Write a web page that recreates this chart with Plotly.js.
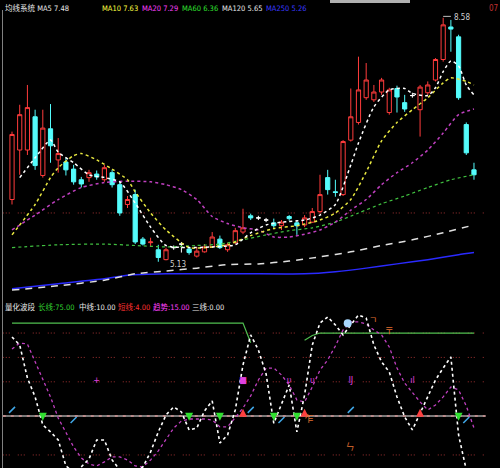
<!DOCTYPE html>
<html><head><meta charset="utf-8">
<script src="https://cdn.plot.ly/plotly-3.0.1.min.js"></script>
<style>html,body{margin:0;padding:0;background:#000;}#chart{width:500px;height:468px;}</style>
</head><body><div id="chart"></div>
<script>
// ---- price bars ----
const openP  = [6.01,6.71,6.71,7.18,6.35,7.01,6.57,6.54,6.44,6.29,6.32,6.37,6.29,6.39,6.22,5.94,6.08,5.45,5.40,5.30,5.16,5.33,5.38,5.31,5.21,5.27,5.34,5.45,5.30,5.40,5.55,5.78,5.75,5.72,5.68,5.64,5.77,5.68,5.65,5.69,5.84,6.32,6.12,6.08,6.85,7.10,7.45,7.42,7.53,7.24,7.58,7.38,7.48,7.28,7.52,7.70,7.99,8.45,8.31,7.07,6.43];
const highP  = [6.97,7.35,7.63,7.28,7.28,7.36,6.88,6.60,6.50,6.33,6.43,6.42,6.50,6.43,6.26,6.06,6.15,5.48,5.47,5.37,5.33,5.36,5.41,5.34,5.34,5.38,5.55,5.50,5.40,5.61,5.88,5.81,5.78,5.75,5.74,5.72,5.79,5.72,5.79,5.89,6.36,6.43,6.29,6.85,7.58,8.03,7.94,7.63,7.73,7.59,7.62,7.49,7.52,7.63,7.68,8.01,8.58,8.55,8.34,7.10,6.53];
const lowP   = [5.94,6.36,6.64,6.43,6.32,6.53,6.39,6.35,6.22,6.18,6.26,6.29,6.26,6.18,5.78,5.89,5.38,5.36,5.34,5.13,5.15,5.30,5.26,5.23,5.19,5.26,5.33,5.31,5.27,5.38,5.52,5.72,5.72,5.69,5.61,5.58,5.71,5.51,5.62,5.68,5.81,6.08,6.05,6.06,6.83,7.07,7.42,7.39,7.49,7.21,7.24,7.25,7.45,6.90,7.49,7.68,7.96,8.10,7.42,6.64,6.29];
const closeP = [6.93,7.21,7.31,6.49,7.02,6.77,6.66,6.43,6.26,6.23,6.39,6.33,6.46,6.22,5.82,6.01,5.41,5.38,5.41,5.19,5.30,5.33,5.38,5.26,5.28,5.34,5.48,5.33,5.37,5.57,5.61,5.75,5.75,5.72,5.64,5.69,5.74,5.64,5.75,5.84,6.08,6.15,6.11,6.83,7.18,7.56,7.70,7.53,7.70,7.56,7.46,7.29,7.48,7.60,7.63,7.99,8.48,8.42,7.45,6.67,6.36];

// ---- moving averages (sampled at bar indices) ----
const ma5Idx  = [1,3,5,6,8,10,12,14,16,18,20,23,26,29,31,33,35,38,40,42,44,45,47,49,51,52,54,55,56,57,58,59,60];
const ma5     = [6.32,6.60,6.85,6.68,6.53,6.36,6.32,6.26,5.96,5.62,5.36,5.33,5.34,5.37,5.54,5.65,5.69,5.72,5.79,5.94,6.50,6.81,7.32,7.56,7.58,7.51,7.48,7.59,7.82,7.97,7.90,7.63,7.49];
const ma10Idx = [0,3,5,6,8,9,11,13,15,16,18,20,23,25,28,31,34,37,40,42,44,46,48,50,52,54,56,57,59,60];
const ma10    = [5.51,5.94,6.32,6.46,6.63,6.66,6.57,6.44,6.29,6.12,5.82,5.58,5.33,5.33,5.37,5.50,5.60,5.64,5.72,5.82,6.01,6.40,6.84,7.10,7.28,7.45,7.66,7.73,7.68,7.63];
const ma20Idx = [0,3,6,9,12,15,18,20,22,24,26,28,30,32,34,36,38,40,42,44,46,48,50,52,54,56,58,60];
const ma20    = [5.58,5.79,6.01,6.18,6.25,6.27,6.26,6.22,6.15,6.01,5.77,5.67,5.61,5.58,5.48,5.48,5.52,5.58,5.69,5.86,6.01,6.22,6.39,6.53,6.71,6.95,7.21,7.29];
const ma60Idx = [0,6,12,16,20,24,27,30,33,36,39,42,45,48,51,54,57,60];
const ma60    = [5.33,5.37,5.38,5.36,5.34,5.36,5.38,5.44,5.51,5.57,5.61,5.69,5.82,5.95,6.06,6.18,6.29,6.36];
const ma120Idx= [0,6,12,16,20,24,28,32,36,40,44,48,52,56,60];
const ma120   = [4.73,4.79,4.87,4.96,5.00,5.04,5.09,5.10,5.14,5.20,5.27,5.36,5.44,5.54,5.65];
const ma250Idx= [0,6,12,15,20,30,38,42,46,50,54,58,60];
const ma250   = [4.75,4.82,4.89,4.94,4.96,4.96,4.96,4.99,5.04,5.10,5.16,5.23,5.26];

// ---- lower indicator ----
const kLine = [96.8,90.2,63.1,47.6,24.6,18.9,12.3,-9.0,-13.9,-9.8,-3.3,12.3,12.3,-4.1,-12.3,-13.9,-13.9,-9.8,2.5,18.9,32.8,39.4,35.3,20.5,22.1,36.1,44.3,9.8,16.4,36.9,73.8,98.4,86.1,66.4,26.0,41.0,57.4,18.9,49.2,90.2,108.2,113.2,106.6,98.4,106.6,114.8,112.3,90.2,76.3,68.1,47.6,31.2,20.5,34.4,47.6,61.5,71.3,80.4,16.4,-12.3,-13.9];
const dLine = [86.9,91.8,91.0,76.3,61.5,47.6,30.3,18.9,6.6,-2.5,-7.4,-9.0,-5.7,-1.6,-1.6,-4.1,-9.0,-9.8,-4.1,3.3,13.1,22.1,27.9,29.5,29.5,29.5,28.7,23.0,23.0,30.3,38.5,48.4,61.5,71.3,71.3,65.6,57.4,45.1,43.5,55.8,69.7,77.9,89.4,102.5,109.1,109.1,107.4,102.5,98.4,88.6,71.3,59.0,50.8,43.5,36.9,41.0,47.6,55.8,53.3,40.2,22.1];
const gLine = [108.2,108.2,108.2,108.2,108.2,108.2,108.2,108.2,108.2,108.2,108.2,108.2,108.2,108.2,108.2,108.2,108.2,108.2,108.2,108.2,108.2,108.2,108.2,108.2,108.2,108.2,108.2,108.2,108.2,108.2,108.2,92,null,null,null,null,null,null,94,98,100,100,100,100,100,100,100,100,100,100,100,100,100,100,100,100,100,100,100,100,100];
const sellIdx = [4,23,27,34,37,58];
const buyIdx  = [30,38,53];
const tickIdx = [0,8,31,35,44,59];
const tickVal = [37,28.7,37,28.7,37,28.7];
const magIdx  = [11,30,36,39,44,52];
const magTxt  = ["+","■","υ","υ","IJ","ıl"];
const oraIdx  = [46.9,49,43.9,38.6];
const oraVal  = [110,101,5.7,28.7];
const oraTxt  = ["ㄱ","〒","ㄣ","乍"];
const gridTop = [5.82];
const gridLow = [100,80,60,0];
const baseLvl = 32;

const titleTop = [
  {t:"均线系统 MA5 7.48", c:"#e8e8e8", x:3},
  {t:"MA10 7.63", c:"#ffff40", x:100},
  {t:"MA20 7.29", c:"#ff40ff", x:140},
  {t:"MA60 6.36", c:"#30e030", x:180},
  {t:"MA120 5.65", c:"#e8e8e8", x:220},
  {t:"MA250 5.26", c:"#3a3aff", x:264}
];
const titleLow = [
  {t:"量化波段", c:"#e8e8e8", x:3},
  {t:"长线:75.00", c:"#30d030", x:36},
  {t:"中线:10.00", c:"#e8e8e8", x:77},
  {t:"短线:4.00", c:"#ff3030", x:116},
  {t:"趋势:15.00", c:"#ff40ff", x:151},
  {t:"三线:0.00", c:"#e8e8e8", x:190}
];

const idx = openP.map((_, i) => i);
const isDoji = i => openP[i] === closeP[i];
const mainI = idx.filter(i => !isDoji(i));
const dojiI = idx.filter(isDoji);
const pick = (arr, ii) => ii.map(i => arr[i]);

const FONT = "Liberation Sans Narrow, DejaVu Sans Condensed, Noto Sans CJK SC, sans-serif";
const traces = [];
function ma(x, y, color, dash, w) {
  traces.push({type:'scatter', mode:'lines', x:x, y:y, xaxis:'x', yaxis:'y',
    line:{color:color, dash:dash, width:w, shape:'spline', smoothing:0.6}, hoverinfo:'skip'});
}
ma(ma250Idx, ma250, '#2a2aff', 'solid', 1.5);
ma(ma120Idx, ma120, '#e0e0e0', '7px,6px', 1.5);
ma(ma60Idx, ma60, '#40c040', 'dot', 1.2);
ma(ma20Idx, ma20, '#c040c0', 'dot', 1.5);
ma(ma10Idx, ma10, '#e8e840', 'dot', 1.5);
ma(ma5Idx, ma5, '#ffffff', 'dot', 1.5);

traces.push({type:'candlestick', x:mainI, open:pick(openP,mainI), high:pick(highP,mainI),
  low:pick(lowP,mainI), close:pick(closeP,mainI), xaxis:'x', yaxis:'y',
  increasing:{line:{color:'#ff3c3c', width:1}, fillcolor:'#000000'},
  decreasing:{line:{color:'#54fcfc', width:1}, fillcolor:'#54fcfc'},
  whiskerwidth:0, hoverinfo:'skip'});
traces.push({type:'candlestick', x:dojiI, open:pick(openP,dojiI), high:pick(highP,dojiI),
  low:pick(lowP,dojiI), close:pick(closeP,dojiI), xaxis:'x', yaxis:'y',
  increasing:{line:{color:'#ffffff', width:1}, fillcolor:'#ffffff'},
  decreasing:{line:{color:'#ffffff', width:1}, fillcolor:'#ffffff'},
  whiskerwidth:0, hoverinfo:'skip'});

// lower panel
traces.push({type:'scatter', mode:'lines', x:idx, y:gLine, xaxis:'x', yaxis:'y2',
  line:{color:'#50c050', width:1.2}, hoverinfo:'skip'});
traces.push({type:'scatter', mode:'lines', x:idx, y:dLine, xaxis:'x', yaxis:'y2',
  line:{color:'#c040c0', width:1.3, dash:'dot'}, hoverinfo:'skip'});
traces.push({type:'scatter', mode:'lines', x:idx, y:kLine, xaxis:'x', yaxis:'y2',
  line:{color:'#ffffff', width:1.6, dash:'dot'}, hoverinfo:'skip'});
traces.push({type:'scatter', mode:'markers', x:sellIdx, y:sellIdx.map(()=>28), xaxis:'x', yaxis:'y2',
  marker:{symbol:'arrow-down', size:8, color:'#30e030'}, hoverinfo:'skip'});
traces.push({type:'scatter', mode:'markers', x:buyIdx, y:buyIdx.map(()=>38), xaxis:'x', yaxis:'y2',
  marker:{symbol:'arrow-up', size:8, color:'#ff4040'}, hoverinfo:'skip'});
traces.push({type:'scatter', mode:'markers', x:tickIdx, y:tickVal, xaxis:'x', yaxis:'y2',
  marker:{symbol:'line-ne', size:6, line:{color:'#40a8e8', width:1.5}}, hoverinfo:'skip'});
traces.push({type:'scatter', mode:'text', x:magIdx, y:magIdx.map(()=>61), text:magTxt, xaxis:'x', yaxis:'y2',
  textfont:{color:'#e040e0', size:9, family:FONT}, hoverinfo:'skip'});
traces.push({type:'scatter', mode:'text', x:oraIdx, y:oraVal, text:oraTxt, xaxis:'x', yaxis:'y2',
  textfont:{color:'#e07030', size:9, family:FONT}, hoverinfo:'skip'});
traces.push({type:'scatter', mode:'markers', x:[43.6], y:[108], xaxis:'x', yaxis:'y2',
  marker:{symbol:'circle', size:8, color:'#a8d8ff'}, hoverinfo:'skip'});

const shapes = [];
const gridDash = '1px,2px,1px,2px,1px,8px';
gridTop.forEach(v => shapes.push({type:'line', xref:'x', yref:'y', x0:-1.2, x1:61.5, y0:v, y1:v,
  line:{color:'#a03030', width:1, dash:gridDash}, layer:'below'}));
gridLow.forEach(v => shapes.push({type:'line', xref:'x', yref:'y2', x0:-1.2, x1:61.5, y0:v, y1:v,
  line:{color:'#a03030', width:1, dash:gridDash}, layer:'below'}));
shapes.push({type:'line', xref:'x', yref:'y2', x0:-1.2, x1:61.5, y0:baseLvl, y1:baseLvl,
  line:{color:'#a0a0a0', width:1.5}, layer:'below'});
shapes.push({type:'line', xref:'x', yref:'y2', x0:-1.2, x1:61.5, y0:baseLvl, y1:baseLvl,
  line:{color:'#d09090', width:1.5, dash:'3px,5px'}, layer:'below'});
shapes.push({type:'line', xref:'paper', yref:'paper', x0:0.005, x1:0.005, y0:0, y1:1-10/468,
  line:{color:'#808080', width:1}});
shapes.push({type:'line', xref:'x', yref:'y', x0:56, x1:57, y0:8.60, y1:8.60,
  line:{color:'#c0c0c0', width:1}});
shapes.push({type:'rect', xref:'paper', yref:'paper', x0:0.66, x1:0.82, y0:1-3/468, y1:1,
  fillcolor:'#b0b0b0', line:{width:0}});

const annotations = [];
titleTop.forEach(s => annotations.push({xref:'paper', yref:'paper', x:s.x/500, y:1-8/468,
  xanchor:'left', yanchor:'middle', text:s.t, showarrow:false, font:{color:s.c, size:7.5, family:FONT}}));
titleLow.forEach(s => annotations.push({xref:'paper', yref:'paper', x:s.x/500, y:1-307/468,
  xanchor:'left', yanchor:'middle', text:s.t, showarrow:false, font:{color:s.c, size:7.5, family:FONT}}));
annotations.push({xref:'x', yref:'y', x:57.1, y:8.58, xanchor:'left', yanchor:'middle', text:'8.58',
  showarrow:false, font:{color:'#d0d0d0', size:8, family:FONT}});
annotations.push({xref:'x', yref:'y', x:20.3, y:5.09, xanchor:'left', yanchor:'middle', text:'5.13',
  showarrow:false, font:{color:'#d0d0d0', size:8, family:FONT}});
annotations.push({xref:'paper', yref:'paper', x:0.974, y:1-8/468, xanchor:'left', yanchor:'middle', text:'07',
  showarrow:false, font:{color:'#c03030', size:8, family:FONT}});

const layout = {
  width:500, height:468, margin:{l:0, r:0, t:0, b:0},
  paper_bgcolor:'#000', plot_bgcolor:'#000', showlegend:false, boxgap:0.22,
  xaxis:{range:[-1.56, 63.38], showgrid:false, zeroline:false, showticklabels:false, showline:false,
    ticks:'', rangeslider:{visible:false}, fixedrange:true, anchor:'y2'},
  yaxis:{domain:[1-295/468, 1-10/468], range:[4.66, 8.69], showgrid:false, zeroline:false,
    showticklabels:false, ticks:'', fixedrange:true},
  yaxis2:{domain:[0, 1-300/468], range:[-10.7, 127.1], showgrid:false, zeroline:false,
    showticklabels:false, ticks:'', fixedrange:true},
  shapes:shapes, annotations:annotations
};
Plotly.newPlot('chart', traces, layout, {staticPlot:true, displayModeBar:false});
</script>
</body></html>
